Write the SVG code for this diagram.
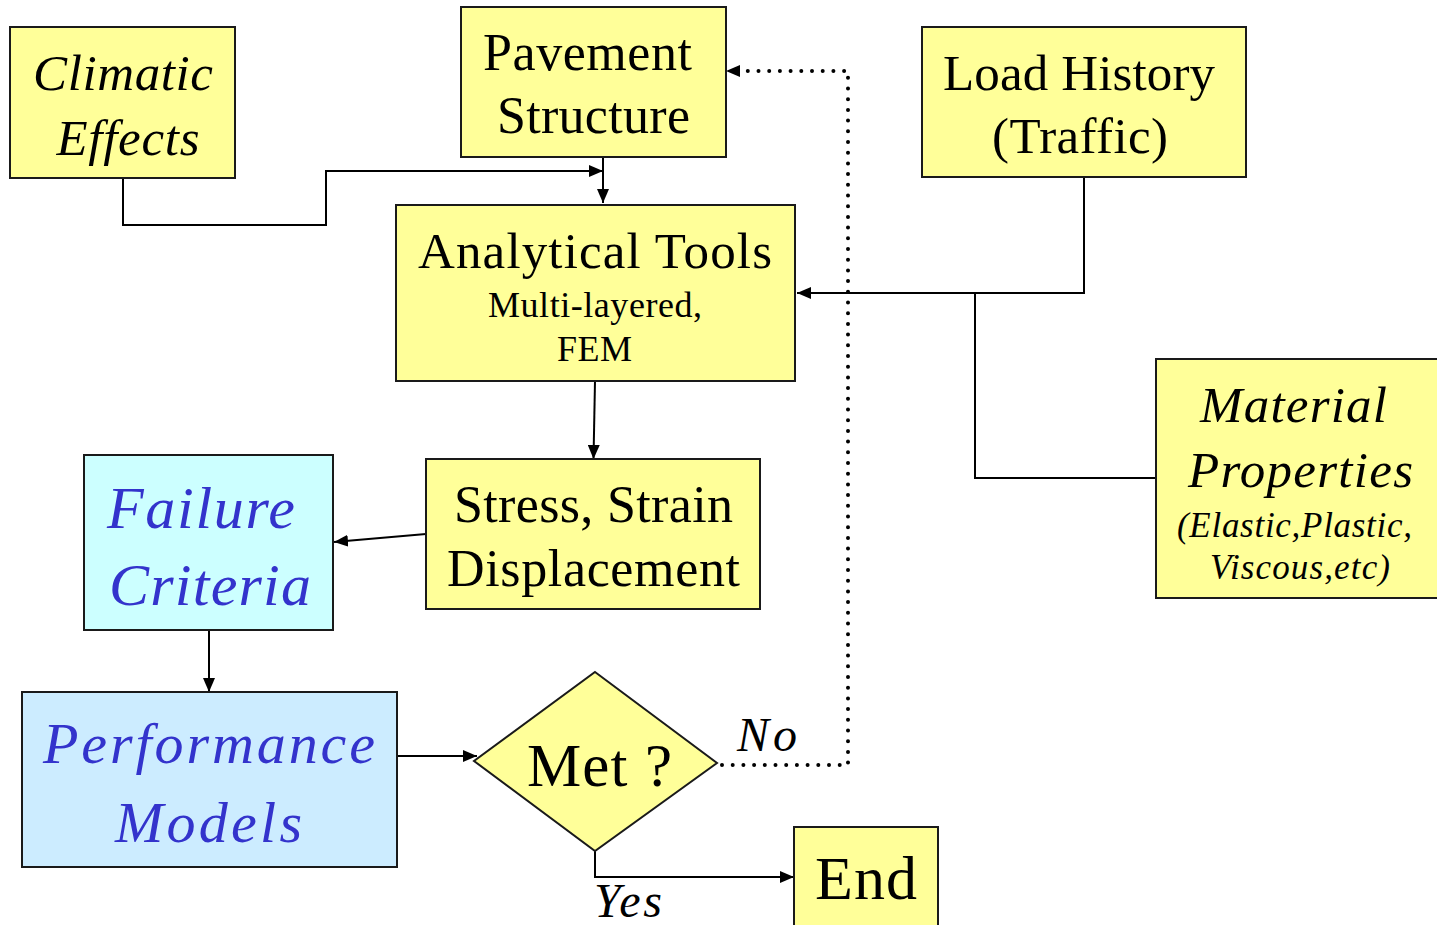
<svg xmlns="http://www.w3.org/2000/svg" width="1437" height="925" viewBox="0 0 1437 925">
<defs>
<style>
.y{fill:#FFFF99;stroke:#1a1a1a;stroke-width:2}
.c{fill:#CCFFFF;stroke:#1a1a1a;stroke-width:2}
.b{fill:#CCECFF;stroke:#1a1a1a;stroke-width:2}
text{font-family:"Liberation Serif",Tinos,"Times New Roman",Times,"Nimbus Roman","Nimbus Roman No9 L",FreeSerif,serif;fill:#000;text-anchor:middle}
.i{font-style:italic}
.bl{fill:#3333CC}
.ln{fill:none;stroke:#000;stroke-width:2}
.dot{fill:none;stroke:#000;stroke-width:4;stroke-linecap:round;stroke-dasharray:0 10.7}
</style>
<marker id="ah" viewBox="0 0 14 12" refX="14" refY="6" markerWidth="14" markerHeight="12" markerUnits="userSpaceOnUse" orient="auto">
<path d="M0,0 L14,6 L0,12 Z" fill="#000"/>
</marker>
</defs>
<rect width="1437" height="925" fill="#fff"/>
<g id="connectors">
<polyline class="ln" points="123,178 123,225 326,225 326,171 603,171" marker-end="url(#ah)"/>
<line class="ln" x1="603" y1="139" x2="603" y2="203" marker-end="url(#ah)"/>
<polyline class="ln" points="1084,177 1084,293 797,293" marker-end="url(#ah)"/>
<polyline class="ln" points="1156,478 975,478 975,293"/>
<line class="ln" x1="595" y1="381" x2="593.5" y2="459" marker-end="url(#ah)"/>
<line class="ln" x1="426" y1="534" x2="334" y2="542" marker-end="url(#ah)"/>
<line class="ln" x1="209" y1="630" x2="209" y2="692" marker-end="url(#ah)"/>
<line class="ln" x1="375" y1="756" x2="477" y2="756" marker-end="url(#ah)"/>
<polyline class="ln" points="595,851 595,877 794,877" marker-end="url(#ah)"/>
<polyline class="dot" points="722,765 848,765 848,71 741,71"/>
<path d="M726,71 L740,65 L740,77 Z" fill="#000"/>
<text class="i" x="767" y="751" font-size="48" textLength="60">No</text>
<text class="i" x="628" y="917" font-size="48" textLength="68">Yes</text>
</g>
<g id="climatic">
<rect class="y" x="10" y="27" width="225" height="151"/>
<text class="i" x="123" y="90" font-size="51" textLength="180">Climatic</text>
<text class="i" x="128" y="155" font-size="51" textLength="143">Effects</text>
</g>
<g id="pavement">
<rect class="y" x="461" y="7" width="265" height="150"/>
<text x="587.5" y="70" font-size="52" textLength="209">Pavement</text>
<text x="593.5" y="133" font-size="52" textLength="193">Structure</text>
</g>
<g id="load">
<rect class="y" x="922" y="27" width="324" height="150"/>
<text x="1079" y="90" font-size="51" textLength="272">Load History</text>
<text x="1080" y="153" font-size="51" textLength="176">(Traffic)</text>
</g>
<g id="analytical">
<rect class="y" x="396" y="205" width="399" height="176"/>
<text x="595" y="268" font-size="51" textLength="354">Analytical Tools</text>
<text x="595" y="317" font-size="36" textLength="214">Multi-layered,</text>
<text x="594.5" y="361" font-size="36" textLength="75">FEM</text>
</g>
<g id="material">
<rect class="y" x="1156" y="359" width="290" height="239"/>
<text class="i" x="1293.5" y="422" font-size="51" textLength="187">Material</text>
<text class="i" x="1300.5" y="487" font-size="51" textLength="225">Properties</text>
<text class="i" x="1294.5" y="537" font-size="35" textLength="235">(Elastic,Plastic,</text>
<text class="i" x="1300" y="579" font-size="35" textLength="180">Viscous,etc)</text>
</g>
<g id="stress">
<rect class="y" x="426" y="459" width="334" height="150"/>
<text x="593.5" y="522" font-size="52" textLength="279">Stress, Strain</text>
<text x="593.5" y="586" font-size="52" textLength="293">Displacement</text>
</g>
<g id="failure">
<rect class="c" x="84" y="455" width="249" height="175"/>
<text class="i bl" x="201" y="528" font-size="60" textLength="188">Failure</text>
<text class="i bl" x="210" y="605" font-size="60" textLength="202">Criteria</text>
</g>
<g id="performance">
<rect class="b" x="22" y="692" width="375" height="175"/>
<text class="i bl" x="209" y="763" font-size="58" textLength="332">Performance</text>
<text class="i bl" x="208.5" y="842" font-size="58" textLength="187">Models</text>
</g>
<g id="met">
<polygon points="595,672 717,763 595,851 474,761" fill="#FFFF99" stroke="#1a1a1a" stroke-width="2"/>
<text x="599.5" y="786" font-size="61" textLength="145">Met ?</text>
</g>
<g id="end">
<rect class="y" x="794" y="827" width="144" height="110"/>
<text x="866" y="899" font-size="62" textLength="102">End</text>
</g>
</svg>
